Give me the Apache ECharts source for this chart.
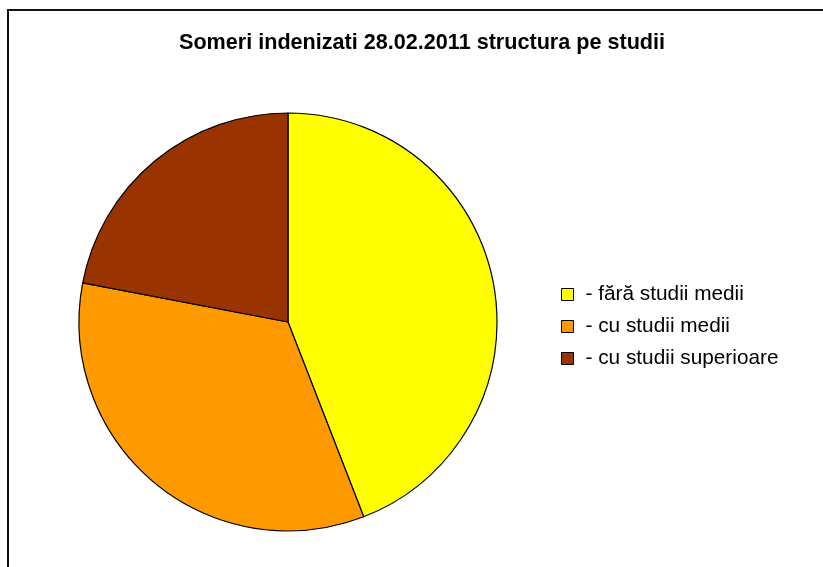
<!DOCTYPE html>
<html>
<head>
<meta charset="utf-8">
<script src="https://cdn.jsdelivr.net/npm/echarts@6/dist/echarts.min.js"></script>
<style>
  html, body { margin: 0; padding: 0; background: #fff; }
  #pie { width: 823px; height: 567px; }
</style>
</head>
<body>
<div id="pie"></div>
<script>
// categorii si valori (procente)
const categories = ["- fără studii medii", "- cu studii medii", "- cu studii superioare"];
const values = [44.1, 33.9, 22.0];
const colors = ["#FFFF00", "#FF9900", "#993300"];

const myChart = echarts.init(document.getElementById("pie"));

const option = {
  backgroundColor: "#fff",
  animation: false,
  title: {
    text: "Someri indenizati 28.02.2011 structura pe studii",
    left: 174,
    top: 27,
    textStyle: {
      fontFamily: "Liberation Sans, Arial",
      fontSize: 21.6,
      fontWeight: "bold",
      color: "#000"
    }
  },
  legend: {
    orient: "vertical",
    left: 556,
    top: 279,
    itemWidth: 12,
    itemHeight: 12,
    itemGap: 11,
    icon: "rect",
    itemStyle: { borderColor: "#000", borderWidth: 1 },
    textStyle: {
      fontFamily: "Liberation Sans, Arial",
      fontSize: 20.8,
      lineHeight: 21,
      color: "#000",
      padding: [0, 0, 0, 7]
    },
    data: categories
  },
  graphic: [
    {
      // cadrul graficului
      type: "rect",
      shape: { x: 8, y: 10, width: 840, height: 600 },
      style: { fill: "none", stroke: "#111", lineWidth: 2 },
      silent: true
    }
  ],
  series: [
    {
      type: "pie",
      center: [288, 322],
      radius: 209,
      startAngle: 90,
      clockwise: true,
      label: { show: false },
      labelLine: { show: false },
      emphasis: { disabled: true },
      itemStyle: { borderColor: "#000", borderWidth: 1.2 },
      data: categories.map((name, i) => ({
        name: name,
        value: values[i],
        itemStyle: { color: colors[i] }
      }))
    }
  ]
};

myChart.setOption(option);
window.addEventListener("resize", () => myChart.resize());
</script>
</body>
</html>
